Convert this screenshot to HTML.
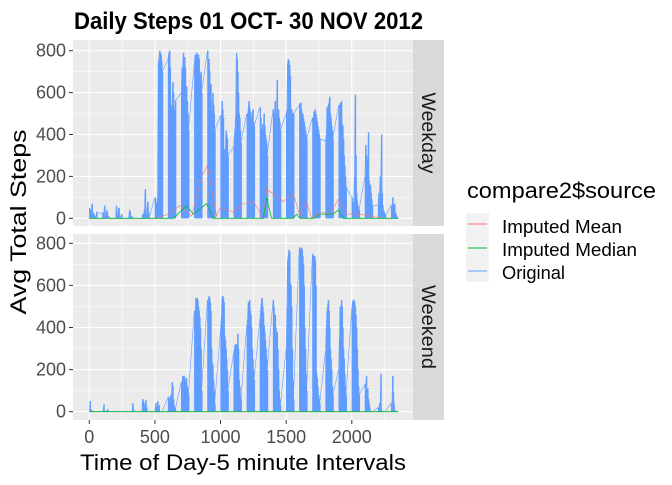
<!DOCTYPE html>
<html><head><meta charset="utf-8"><style>
body{margin:0;background:#fff;}
svg text{font-family:"Liberation Sans",Arial,sans-serif;}
</style></head><body>
<svg id="chart" width="672" height="480" xmlns="http://www.w3.org/2000/svg">
<rect width="672" height="480" fill="#fff"/>
<text x="74" y="29" font-size="24" font-weight="bold" textLength="349" lengthAdjust="spacingAndGlyphs">Daily Steps 01 OCT- 30 NOV 2012</text>
<g id="p1"></g>
<g id="p2"></g>
<rect x="413" y="40" width="31" height="186" fill="#d9d9d9"/>
<text transform="translate(422,133) rotate(90)" text-anchor="middle" font-size="19" fill="#1a1a1a" textLength="81" lengthAdjust="spacingAndGlyphs">Weekday</text>
<rect x="413" y="234" width="31" height="186" fill="#d9d9d9"/>
<text transform="translate(422,327) rotate(90)" text-anchor="middle" font-size="19" fill="#1a1a1a" textLength="84" lengthAdjust="spacingAndGlyphs">Weekend</text>
<text transform="translate(26,222) rotate(-90)" text-anchor="middle" font-size="22" textLength="185" lengthAdjust="spacingAndGlyphs">Avg Total Steps</text>
<text x="243" y="470" text-anchor="middle" font-size="22" textLength="326" lengthAdjust="spacingAndGlyphs">Time of Day-5 minute Intervals</text>
<g id="xticks"></g>
<g>
<text x="467" y="198" font-size="22" textLength="189" lengthAdjust="spacingAndGlyphs">compare2$source</text>
<rect x="466" y="213" width="23" height="69" fill="#f2f2f2"/>
<line x1="468" x2="487" y1="224" y2="224" stroke="#f8766d"/>
<line x1="468" x2="487" y1="248" y2="248" stroke="#00ba38"/>
<line x1="468" x2="487" y1="271" y2="271" stroke="#619cff"/>
<text x="502" y="233" font-size="18" textLength="120" lengthAdjust="spacingAndGlyphs">Imputed Mean</text>
<text x="502" y="256" font-size="18" textLength="135" lengthAdjust="spacingAndGlyphs">Imputed Median</text>
<text x="502" y="279" font-size="18" textLength="63" lengthAdjust="spacingAndGlyphs">Original</text>
</g>
</svg>
<script>
const xTicks=[0,500,1000,1500,2000];
const yTicks=[0,200,400,600,800];
const weekdayOriginal=[
[50,10,40,20,70,30,0,20,10,0,5,30],
[20,30,10,60,20,0,40,30,0,10,5,0],
[0,60,10,0,40,50,0,0,10,20,0,0],
[0,40,30,0,0,10,0,0,0,0,0,0],
[0,20,0,30,40,140,20,10,50,80,30,0],
[100,60,70,80,100,740,760,800,790,780,750,700],
[760,790,800,720,540,530,540,650,600,520,400,560],
[600,720,700,790,740,770,720,600,630,560,500,420],
[740,780,760,790,785,770,780,760,620,680,700,600],
[800,690,760,700,620,640,410,520,600,540,500,420],
[490,480,560,520,480,310,330,300,420,400,380,300],
[340,400,430,500,790,760,700,600,500,480,420,360],
[500,480,520,560,530,510,440,480,500,520,460,440],
[530,480,430,300,450,420,500,440,400,380,360,300],
[520,480,500,560,440,480,660,500,520,480,460,420],
[500,520,740,760,750,730,680,500,520,480,500,500],
[540,550,550,520,490,500,480,460,440,420,400,380],
[480,420,510,500,520,500,480,460,440,420,400,380],
[370,400,530,520,540,550,580,500,480,440,420,380],
[540,500,550,520,560,450,440,380,300,250,200,150],
[100,60,80,70,200,590,300,120,80,60,50,40],
[200,350,300,280,200,410,180,150,160,120,90,60],
[60,120,80,200,150,400,120,60,40,30,20,10],
[60,40,100,50,60,70,30,20,10,5,0,0]];
const weekendOriginal=[
[0,50,10,0,5,0,0,0,0,0,0,0],
[0,0,35,0,0,0,5,0,10,0,0,0],
[0,0,0,0,0,0,0,0,0,0,0,0],
[0,0,0,0,0,0,40,10,0,0,0,0],
[0,60,50,0,30,40,55,20,0,0,0,0],
[0,40,20,0,50,10,30,0,0,0,0,0],
[70,60,40,70,80,60,140,120,60,30,20,10],
[140,120,170,100,170,160,110,140,160,120,100,80],
[480,300,540,520,540,530,500,480,450,400,300,100],
[530,520,550,540,520,480,300,230,220,150,100,40],
[390,450,530,550,540,520,360,340,300,250,200,100],
[280,300,320,250,320,200,370,300,150,120,80,60],
[410,440,520,500,530,480,460,400,300,250,200,150],
[440,480,520,540,500,470,410,380,340,300,250,200],
[530,500,420,460,400,360,380,300,200,100,60,30],
[300,500,720,740,770,760,610,600,500,300,150,60],
[780,770,760,780,770,740,700,600,400,300,180,100],
[750,740,700,740,720,600,180,160,120,80,60,40],
[290,400,480,500,530,480,400,300,250,200,120,80],
[200,350,500,480,530,500,400,300,250,180,120,80],
[490,520,530,530,520,500,460,400,300,200,120,80],
[130,100,170,80,110,60,40,20,0,0,0,0],
[20,0,40,0,180,10,0,0,0,0,0,0],
[40,0,170,90,40,10,0,0,0,0,0,0]];
const weekdayMeanX=[0,513,600,691,780,856,899,970,996,1097,1174,1250,1326,1351,1478,1554,1605,1656,1694,1758,1834,1897,1961,2050,2240,2355];
const weekdayMeanY=[0,0,20,60,10,200,250,10,50,30,70,80,0,140,80,120,10,80,0,30,20,90,20,20,0,0];
const weekdayMedianX=[0,640,742,793,894,945,1326,1351,1389,1554,1580,1605,1707,1758,1859,1897,1935,2355];
const weekdayMedianY=[0,0,60,20,70,0,0,100,0,0,20,0,0,20,20,40,0,0];
const weekendMeanX=[0,2355];const weekendMeanY=[0,0];

const NS="http://www.w3.org/2000/svg";
const X0=73,X1=413;
function xs(v){return 89.3+v*0.13125;}
function mk(t,a,p){const e=document.createElementNS(NS,t);for(const k in a)e.setAttribute(k,a[k]);p.appendChild(e);return e;}
function panel(g,top,bot,y0px,y800,orig,mx,my,gx,gy,nm){
  const ys=v=>y0px+(y800-y0px)*v/800;
  const bg=mk('rect',{x:X0,y:top,width:X1-X0,height:bot-top,fill:'#ebebeb'},g);
  
  
  for(let i=0;i<yTicks.length;i++){
    const t=yTicks[i];
    mk('line',{x1:X0,x2:X1,y1:ys(t),y2:ys(t),stroke:'#fff','stroke-width':1.1},g);
    if(i<yTicks.length-1) mk('line',{x1:X0,x2:X1,y1:ys(t+100),y2:ys(t+100),stroke:'#fff','stroke-width':0.5},g);
    const tx=mk('text',{x:66,y:ys(t)+6,'text-anchor':'end','font-size':18,fill:'#4d4d4d'},g);
    tx.textContent=t;
    
    
    mk('line',{x1:69,x2:73,y1:ys(t),y2:ys(t),stroke:'#333'},g);
  }
  for(let i=0;i<xTicks.length;i++){
    const t=xTicks[i];
    mk('line',{x1:xs(t),x2:xs(t),y1:top,y2:bot,stroke:'#fff','stroke-width':1.1},g);
    mk('line',{x1:xs(t+250),x2:xs(t+250),y1:top,y2:bot,stroke:'#fff','stroke-width':0.5},g);
  }
  let pts=[];
  for(let h=0;h<orig.length;h++)for(let m=0;m<12;m++){
    const v=orig[h][m];const xv=h*100+m*5;
    pts.push(xs(xv)+','+ys(v));
    if(v>0){const r=mk('rect',{x:xs(xv)-0.2,y:ys(v),width:1.25,height:ys(0)-ys(v),fill:'#619cff'},g);
    
    }
  }
  const pl=mk('polyline',{points:pts.join(' '),fill:'none',stroke:'#619cff','stroke-width':0.6},g);
  
  
  const l1=mk('polyline',{points:mx.map((x,i)=>xs(x)+','+ys(my[i])).join(' '),fill:'none',stroke:'#f8766d','stroke-width':0.6},g);
  
  
  const l2=mk('polyline',{points:gx.map((x,i)=>xs(x)+','+ys(gy[i])).join(' '),fill:'none',stroke:'#00ba38','stroke-width':0.8},g);
  
  
}
panel(document.getElementById('p1'),40,226,218.3,50.7,weekdayOriginal,weekdayMeanX,weekdayMeanY,weekdayMedianX,weekdayMedianY,'weekday');
panel(document.getElementById('p2'),234,420,411.7,243.3,weekendOriginal,weekendMeanX,weekendMeanY,[0,2355],[0,0],'weekend');
const xg=document.getElementById('xticks');
for(const t of xTicks){
  mk('line',{x1:xs(t),x2:xs(t),y1:420,y2:424,stroke:'#333'},xg);
  const tx=mk('text',{x:xs(t),y:443,'text-anchor':'middle','font-size':18,fill:'#4d4d4d'},xg);
  tx.textContent=t;
  
  
}
</script>
</body></html>
